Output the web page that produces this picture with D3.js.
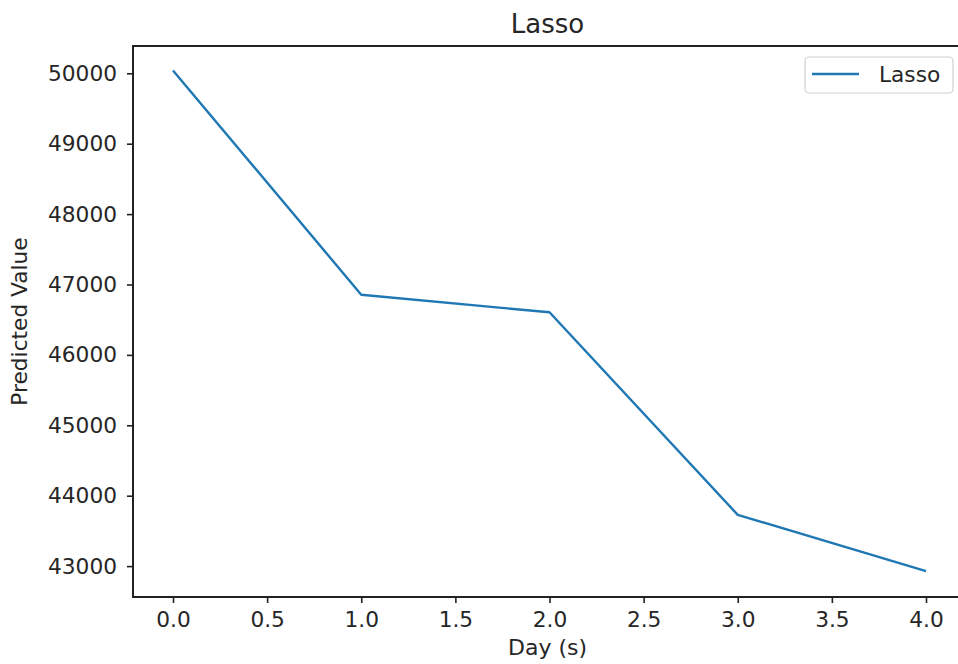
<!DOCTYPE html>
<html>
<head>
<meta charset="utf-8">
<script src="https://cdn.jsdelivr.net/npm/d3@7"></script>
<style>
  body{ margin:0; background:#fff; }
  text{ font-family:"DejaVu Sans", sans-serif; fill:#262626; }
</style>
</head>
<body>
<div id="chart"></div>
<script>
// data
var days = [0, 1, 2, 3, 4];
var predicted = [50040, 46855, 46605, 43728, 42930];
var xTicks = [0, 0.5, 1, 1.5, 2, 2.5, 3, 3.5, 4];
var yTicks = [43000, 44000, 45000, 46000, 47000, 48000, 49000, 50000];
var seriesName = "Lasso";
var titleText = "Lasso";
var xLabel = "Day (s)";
var yLabel = "Predicted Value";

var width = 958, height = 664;
// axes frame
var box = {left:133, right:962, top:46, bottom:597};

var xScale = d3.scaleLinear()
				.domain([0, 4])
				.range([173, 926]);
var yScale = d3.scaleLinear()
				.domain([43000, 50000])
				.range([566.1, 73.3]);

var svg = d3.select("#chart")
			.append("svg")
			.attr("width", width)
			.attr("height", height);

// line
var line = d3.line()
			.x(function(d, i){ return xScale(days[i]); })
			.y(function(d){ return yScale(d); });

svg.append("path")
	.datum(predicted)
	.attr("d", line)
	.style("fill", "none")
	.style("stroke", "#1f77b4")
	.style("stroke-width", 2.4)
	.style("stroke-linejoin", "round");

// spines
svg.append("rect")
	.attr("x", box.left)
	.attr("y", box.top)
	.attr("width", box.right - box.left)
	.attr("height", box.bottom - box.top)
	.style("fill", "none")
	.style("stroke", "#222")
	.style("stroke-width", 2);

// x axis
var xAxis = d3.axisBottom(xScale)
				.tickValues(xTicks)
				.tickFormat(d3.format(".1f"))
				.tickSize(6)
				.tickPadding(9);
var gx = svg.append("g")
			.attr("transform", "translate(0," + box.bottom + ")")
			.call(xAxis);
gx.select(".domain").remove();
gx.selectAll("line").style("stroke", "#222").style("stroke-width", 1.6);
gx.selectAll("text").style("font-size", "21.7px").style("fill", "#262626")
	.style("font-family", "DejaVu Sans, sans-serif");

// y axis
var yAxis = d3.axisLeft(yScale)
				.tickValues(yTicks)
				.tickFormat(d3.format("d"))
				.tickSize(6)
				.tickPadding(10);
var gy = svg.append("g")
			.attr("transform", "translate(" + box.left + ",0)")
			.call(yAxis);
gy.select(".domain").remove();
gy.selectAll("line").style("stroke", "#222").style("stroke-width", 1.6);
gy.selectAll("text").style("font-size", "21.7px").style("fill", "#262626")
	.style("font-family", "DejaVu Sans, sans-serif");

// title and labels
svg.append("text")
	.text(titleText)
	.attr("x", (box.left + box.right) / 2)
	.attr("y", 33)
	.attr("text-anchor", "middle")
	.style("font-size", "26px");

svg.append("text")
	.text(xLabel)
	.attr("x", (box.left + box.right) / 2)
	.attr("y", 655)
	.attr("text-anchor", "middle")
	.style("font-size", "22px");

svg.append("text")
	.text(yLabel)
	.attr("transform", "translate(27," + ((box.top + box.bottom) / 2) + ") rotate(-90)")
	.attr("text-anchor", "middle")
	.style("font-size", "21.7px");

// legend
var legend = svg.append("g");
legend.append("rect")
	.attr("x", 805)
	.attr("y", 57)
	.attr("width", 148)
	.attr("height", 36)
	.attr("rx", 4)
	.style("fill", "#fff")
	.style("fill-opacity", 0.8)
	.style("stroke", "#d0d0d0")
	.style("stroke-width", 1.2);
legend.append("line")
	.attr("x1", 812)
	.attr("x2", 859)
	.attr("y1", 74)
	.attr("y2", 74)
	.style("stroke", "#1f77b4")
	.style("stroke-width", 2.4);
legend.append("text")
	.text(seriesName)
	.attr("x", 879)
	.attr("y", 82)
	.style("font-size", "21.7px");
</script>
</body>
</html>
